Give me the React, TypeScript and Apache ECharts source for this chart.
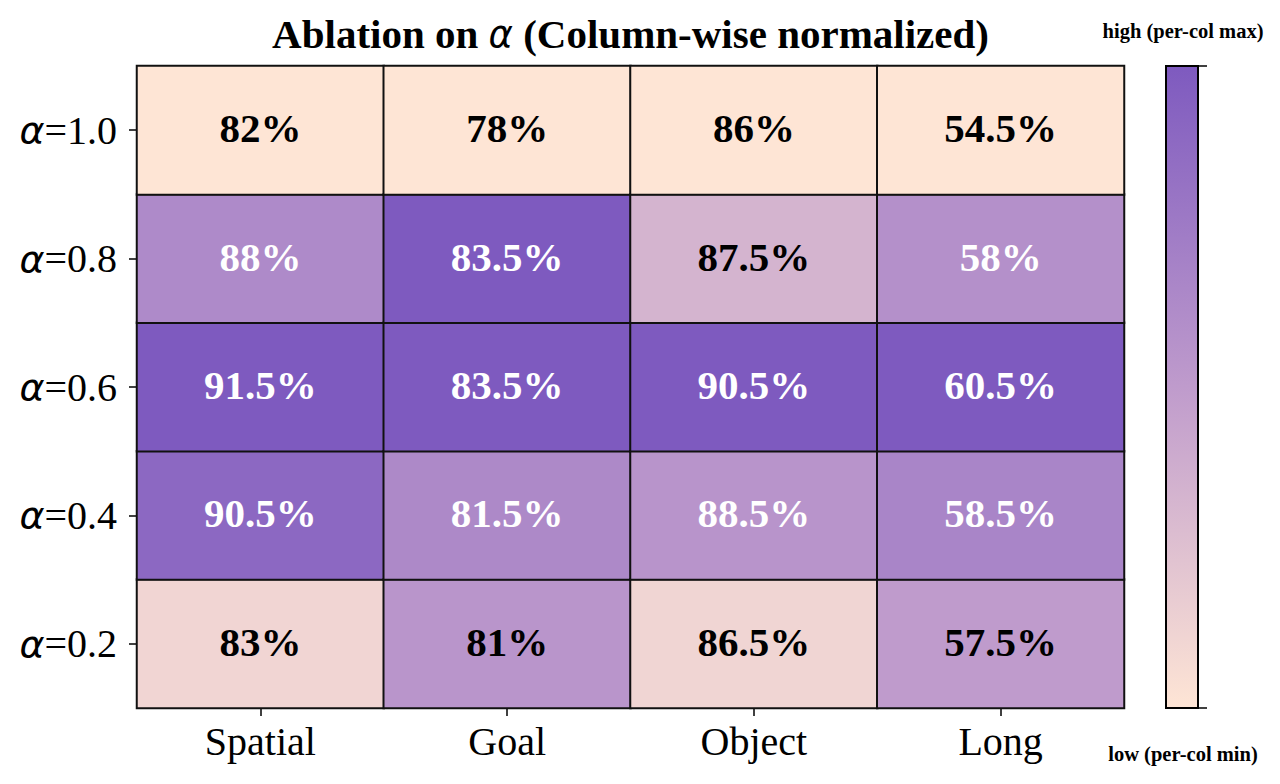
import React, { useEffect, useRef } from "react";
import * as echarts from "echarts";

// Benchmarks (columns) and alpha settings (rows, bottom to top)
const categories = ["Spatial", "Goal", "Object", "Long"];
const alphaRows = ["0.2", "0.4", "0.6", "0.8", "1.0"];

// Success rate (%) per benchmark, listed for alpha = 0.2, 0.4, 0.6, 0.8, 1.0
const spatial = [83, 90.5, 91.5, 88, 82];
const goal = [81, 81.5, 83.5, 83.5, 78];
const object = [86.5, 88.5, 90.5, 87.5, 86];
const longHorizon = [57.5, 58.5, 60.5, 58, 54.5];

const columns = [spatial, goal, object, longHorizon];

const colorStops = ["#fee5d5", "#bf9bcc", "#7e5abf"];

const PLOT_LEFT = 137;
const PLOT_RIGHT = 1124;
const PLOT_TOP = 66;
const PLOT_BOTTOM = 708;
const CB_LEFT = 1166;
const CB_WIDTH = 32;

const SERIF = "'Liberation Serif', 'Times New Roman', serif";
const MATH = "'DejaVu Sans', sans-serif";

function buildData() {
  const out: any[] = [];
  columns.forEach((col, xi) => {
    const lo = Math.min(...col);
    const hi = Math.max(...col);
    col.forEach((v, yi) => {
      const norm = hi === lo ? 0 : (v - lo) / (hi - lo);
      out.push({
        value: [xi, yi, norm, v],
        label: { color: norm > 0.55 ? "#ffffff" : "#000000" },
      });
    });
  });
  return out;
}

export default function App() {
  const ref = useRef<HTMLDivElement>(null);

  useEffect(() => {
    if (!ref.current) return;
    const chart = echarts.init(ref.current, null, { renderer: "svg" });
    const cbHeight = PLOT_BOTTOM - PLOT_TOP;
    chart.setOption({
      animation: false,
      backgroundColor: "#ffffff",
      grid: {
        left: PLOT_LEFT,
        right: 1280 - PLOT_RIGHT,
        top: PLOT_TOP,
        bottom: 784 - PLOT_BOTTOM,
      },
      xAxis: {
        type: "category",
        data: categories,
        position: "bottom",
        splitArea: { show: false },
        axisLine: { show: true, lineStyle: { color: "#000", width: 2 } },
        axisTick: { show: true, alignWithLabel: true, length: 8, lineStyle: { color: "#000", width: 1.5 } },
        axisLabel: { color: "#000", fontFamily: SERIF, fontSize: 40, margin: 13 },
      },
      yAxis: {
        type: "category",
        data: alphaRows,
        splitArea: { show: false },
        axisLine: { show: true, lineStyle: { color: "#000", width: 2 } },
        axisTick: { show: true, alignWithLabel: true, length: 8, lineStyle: { color: "#000", width: 1.5 } },
        axisLabel: {
          margin: 20,
          formatter: (v: string) => `{a|α}{b|=${v}}`,
          rich: {
            a: { fontFamily: MATH, fontStyle: "italic", fontSize: 38, color: "#000" },
            b: { fontFamily: SERIF, fontSize: 40, color: "#000" },
          },
        },
      },
      visualMap: {
        show: false,
        type: "continuous",
        min: 0,
        max: 1,
        dimension: 2,
        seriesIndex: 0,
        inRange: { color: colorStops },
      },
      series: [
        {
          type: "heatmap",
          data: buildData(),
          itemStyle: { borderColor: "#111", borderWidth: 2 },
          emphasis: { disabled: true },
          label: {
            show: true,
            fontFamily: SERIF,
            fontWeight: "bold",
            fontSize: 41,
            offset: [0, -2],
            formatter: (p: any) => `${p.value[3]}%`,
          },
        },
      ],
      graphic: [
        {
          type: "text",
          x: (PLOT_LEFT + PLOT_RIGHT) / 2,
          y: 34,
          style: {
            text: "{b|Ablation on }{a|α}{b| (Column-wise normalized)}",
            align: "center",
            verticalAlign: "middle",
            rich: {
              a: { fontFamily: MATH, fontStyle: "italic", fontSize: 37, fill: "#000" },
              b: { fontFamily: SERIF, fontWeight: "bold", fontSize: 41, fill: "#000" },
            },
          },
        },
        {
          type: "rect",
          shape: { x: CB_LEFT, y: PLOT_TOP, width: CB_WIDTH, height: cbHeight },
          style: {
            fill: {
              type: "linear",
              x: 0,
              y: 0,
              x2: 0,
              y2: 1,
              colorStops: [
                { offset: 0, color: colorStops[2] },
                { offset: 0.5, color: colorStops[1] },
                { offset: 1, color: colorStops[0] },
              ],
            },
            stroke: "#000",
            lineWidth: 2,
          },
        },
        {
          type: "line",
          shape: { x1: CB_LEFT + CB_WIDTH, y1: PLOT_TOP, x2: CB_LEFT + CB_WIDTH + 9, y2: PLOT_TOP },
          style: { stroke: "#000", lineWidth: 1.5 },
        },
        {
          type: "line",
          shape: { x1: CB_LEFT + CB_WIDTH, y1: PLOT_BOTTOM, x2: CB_LEFT + CB_WIDTH + 9, y2: PLOT_BOTTOM },
          style: { stroke: "#000", lineWidth: 1.5 },
        },
        {
          type: "text",
          x: 1183,
          y: 31,
          style: {
            text: "high (per-col max)",
            align: "center",
            verticalAlign: "middle",
            fontFamily: SERIF,
            fontWeight: "bold",
            fontSize: 20.5,
            fill: "#000",
          },
        },
        {
          type: "text",
          x: 1183,
          y: 754,
          style: {
            text: "low (per-col min)",
            align: "center",
            verticalAlign: "middle",
            fontFamily: SERIF,
            fontWeight: "bold",
            fontSize: 20.5,
            fill: "#000",
          },
        },
      ],
    });
    return () => chart.dispose();
  }, []);

  return (
    <div
      ref={ref}
      style={{ position: "fixed", left: 0, top: 0, width: 1280, height: 784, background: "#fff" }}
    />
  );
}
